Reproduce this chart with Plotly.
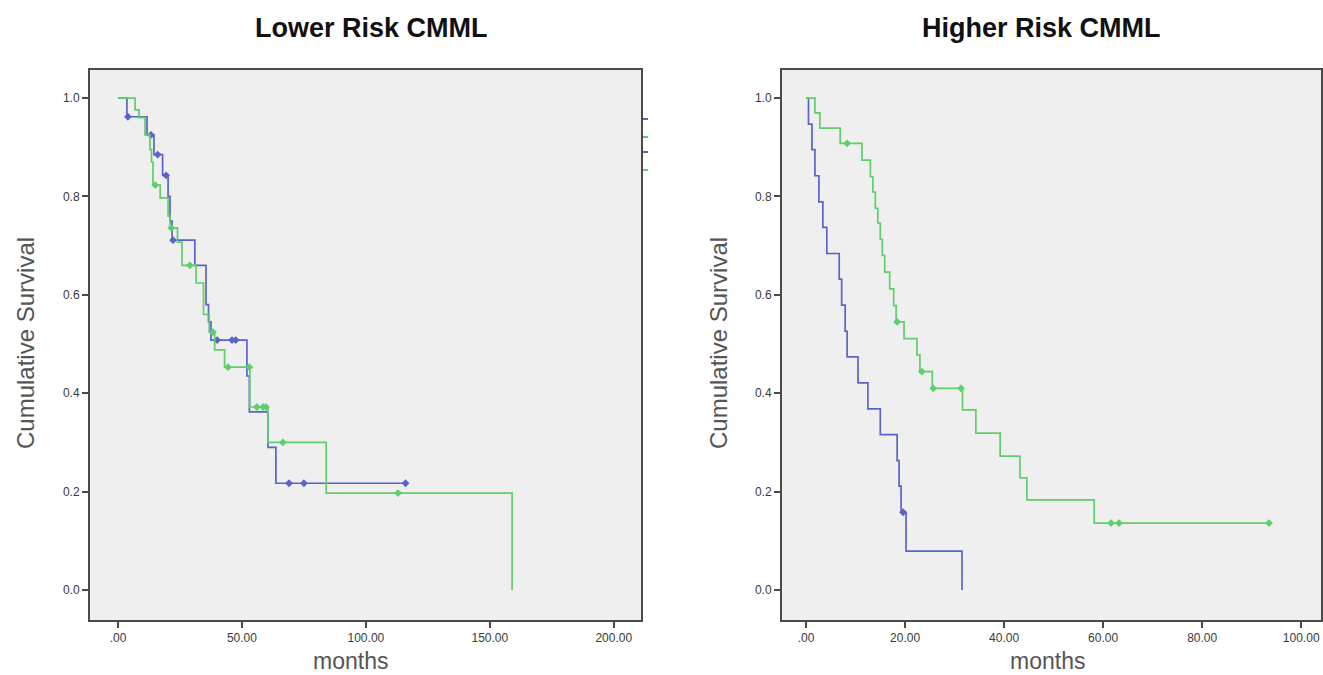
import plotly.graph_objects as go

# Kaplan-Meier step data (months, cumulative survival after each event)
lower_g1_t = [0, 3.6, 11.7, 14.5, 18.0, 20.2, 21.0, 21.8, 31.0, 35.5, 36.5, 37.5, 52.0, 53.0, 60.5, 63.7]
lower_g1_s = [1.0, 0.962, 0.925, 0.885, 0.843, 0.80, 0.75, 0.711, 0.66, 0.58, 0.545, 0.508, 0.435, 0.362, 0.29, 0.217]
lower_g1_cens = [4.0, 13.3, 16.0, 19.4, 22.2, 40.0, 46.0, 47.5, 69.0, 75.0, 116.0]

lower_g2_t = [0, 6.9, 8.5, 10.9, 12.9, 13.5, 14.1, 17.0, 20.2, 21.0, 24.0, 25.8, 31.5, 34.5, 36.8, 39.0, 43.0, 53.2, 60.5, 84.0, 159.0]
lower_g2_s = [1.0, 0.976, 0.96, 0.925, 0.895, 0.87, 0.823, 0.797, 0.76, 0.736, 0.707, 0.66, 0.624, 0.56, 0.524, 0.488, 0.453, 0.372, 0.30, 0.197, 0.0]
lower_g2_cens = [15.0, 21.5, 29.0, 38.3, 44.4, 53.0, 56.0, 58.5, 59.7, 66.5, 113.0]

higher_g1_t = [0, 0.5, 1.2, 1.8, 2.6, 3.4, 4.2, 6.7, 7.2, 7.9, 8.3, 10.5, 12.5, 15.0, 18.4, 18.8, 19.2, 20.2, 31.5]
higher_g1_s = [1.0, 0.947, 0.895, 0.842, 0.789, 0.737, 0.684, 0.632, 0.579, 0.526, 0.474, 0.421, 0.368, 0.316, 0.263, 0.211, 0.158, 0.079, 0.0]
higher_g1_cens = [19.6]

higher_g2_t = [0, 1.8, 2.8, 6.9, 11.3, 13.0, 13.5, 14.0, 14.5, 15.0, 15.4, 15.9, 16.9, 17.7, 18.2, 19.8, 22.4, 23.0, 25.5, 31.6, 34.3, 39.2, 43.2, 44.6, 58.2]
higher_g2_s = [1.0, 0.97, 0.939, 0.908, 0.874, 0.84, 0.809, 0.776, 0.746, 0.713, 0.68, 0.646, 0.612, 0.578, 0.545, 0.511, 0.478, 0.444, 0.41, 0.366, 0.319, 0.272, 0.228, 0.183, 0.136]
higher_g2_cens = [8.3, 18.4, 23.4, 25.7, 31.3, 61.6, 63.2, 93.5]

lower_xticks = [0, 50, 100, 150, 200]
lower_xtext = [".00", "50.00", "100.00", "150.00", "200.00"]
higher_xticks = [0, 20, 40, 60, 80, 100]
higher_xtext = [".00", "20.00", "40.00", "60.00", "80.00", "100.00"]
yticks = [0.0, 0.2, 0.4, 0.6, 0.8, 1.0]
ytext = ["0.0", "0.2", "0.4", "0.6", "0.8", "1.0"]

BLUE = "#5b63c9"
GREEN = "#5fcf6b"
FONT = "Arial, Liberation Sans, sans-serif"


def step_at(times, surv, t):
    val = surv[0]
    for ti, si in zip(times, surv):
        if ti <= t:
            val = si
    return val


def km_traces(times, surv, cens, color, xa, ya):
    end = max(times[-1], max(cens) if cens else 0)
    xs = list(times) + ([end] if end > times[-1] else [])
    ys = list(surv) + ([surv[-1]] if end > times[-1] else [])
    line = go.Scatter(x=xs, y=ys, mode="lines", line=dict(color=color, width=1.7, shape="hv"),
                      xaxis=xa, yaxis=ya, showlegend=False, hoverinfo="skip")
    marks = go.Scatter(x=cens, y=[step_at(times, surv, c) for c in cens], mode="markers",
                       marker=dict(symbol="diamond", size=6, color=color),
                       xaxis=xa, yaxis=ya, showlegend=False, hoverinfo="skip")
    return [line, marks]


fig = go.Figure()
for tr in (km_traces(lower_g1_t, lower_g1_s, lower_g1_cens, BLUE, "x", "y")
           + km_traces(lower_g2_t, lower_g2_s, lower_g2_cens, GREEN, "x", "y")
           + km_traces(higher_g1_t, higher_g1_s, higher_g1_cens, BLUE, "x2", "y2")
           + km_traces(higher_g2_t, higher_g2_s, higher_g2_cens, GREEN, "x2", "y2")):
    fig.add_trace(tr)

W, H = 1323, 675
y_dom = [1 - 620 / H, 1 - 70 / H]
axis_common = dict(showline=True, mirror=True, linecolor="#4a4a4a", linewidth=2,
                   showgrid=False, zeroline=False, ticks="outside", ticklen=6,
                   tickcolor="#4a4a4a", tickwidth=1.5,
                   tickfont=dict(family=FONT, size=12, color="#3a3a3a"))

fig.update_layout(
    width=W, height=H, margin=dict(l=0, r=0, t=0, b=0),
    paper_bgcolor="white", plot_bgcolor="#efefef",
    xaxis=dict(domain=[90 / W, 641 / W], range=[-11.3, 211], tickvals=lower_xticks,
               ticktext=lower_xtext, anchor="y", **axis_common),
    yaxis=dict(domain=y_dom, range=[-0.061, 1.057], tickvals=yticks, ticktext=ytext,
               anchor="x", **axis_common),
    xaxis2=dict(domain=[782 / W, 1321 / W], range=[-4.85, 104], tickvals=higher_xticks,
                ticktext=higher_xtext, anchor="y2", **axis_common),
    yaxis2=dict(domain=y_dom, range=[-0.061, 1.057], tickvals=yticks, ticktext=ytext,
                anchor="x2", **axis_common),
)

# Panel titles and axis titles
texts = [
    ("Lower Risk CMML", 371, 28, 0, 27, "#111111", True),
    ("Higher Risk CMML", 1041, 28, 0, 27, "#111111", True),
    ("months", 350, 661, 0, 23, "#555555", False),
    ("months", 1047, 661, 0, 23, "#555555", False),
    ("Cumulative Survival", 25, 343, -90, 24, "#555555", False),
    ("Cumulative Survival", 718, 343, -90, 24, "#555555", False),
]
for txt, px, py, ang, size, col, bold in texts:
    fig.add_annotation(x=px / W, y=1 - py / H, xref="paper", yref="paper",
                       text=f"<b>{txt}</b>" if bold else txt, showarrow=False,
                       textangle=ang, xanchor="center", yanchor="middle",
                       font=dict(family=FONT, size=size, color=col))

# Clipped legend swatches at the right edge of the first panel
for py, col in [(119, BLUE), (137, GREEN), (152, BLUE), (170, GREEN)]:
    fig.add_shape(type="line", xref="paper", yref="paper",
                  x0=643 / W, x1=648 / W, y0=1 - py / H, y1=1 - py / H,
                  line=dict(color=col, width=2))

fig.write_html("out.html")
